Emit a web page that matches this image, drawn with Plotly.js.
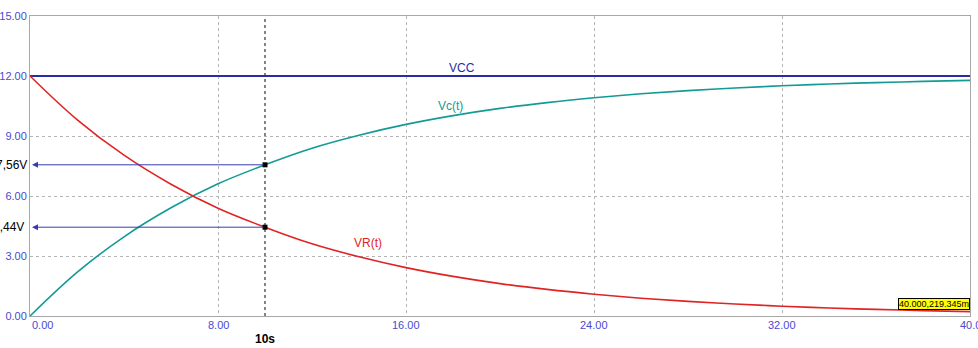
<!DOCTYPE html>
<html><head><meta charset="utf-8">
<script src="https://cdn.plot.ly/plotly-3.0.1.min.js"></script>
<style>html,body{margin:0;padding:0;background:#fff}#chart{width:978px;height:348px}</style>
</head><body><div id="chart"></div>
<script>
// time (s)
const timeS = [0,2,4,6,8,10,12,14,16,18,20,22,24,26,28,30,32,34,36,38,40];
// capacitor voltage Vc(t)
const vcVolts = [0,2.18,3.96,5.41,6.61,7.56,8.39,9.04,9.58,10.02,10.38,10.67,10.91,11.11,11.27,11.40,11.51,11.60,11.67,11.73,11.78];
// resistor voltage VR(t)
const vrVolts = [12,9.82,8.04,6.59,5.39,4.44,3.61,2.96,2.42,1.98,1.62,1.33,1.09,0.89,0.73,0.60,0.49,0.40,0.33,0.27,0.22];
// supply
const vccTime = [0,40];
const vccVolts = [12,12];
// cursor
const cursorT = 10;
const cursorVals = [7.56, 4.44];
const cursorLabels = ["7,56V", "4,44V"];
const endLabel = "40.000,219.345m";
const endPoint = [40, 0.219345];
const xTicks = [0,8,16,24,32,40];
const xTickText = ["0.00","8.00","16.00","24.00","32.00","40.0"];
const yTicks = [0,3,6,9,12,15];

const tickColor = '#4a4ad0';
const font = 'Liberation Sans, Arial, sans-serif';

const traces = [
  {x: vccTime, y: vccVolts, mode:'lines', line:{color:'#2b2ba3', width:2}, hoverinfo:'skip'},
  {x: timeS, y: vcVolts, mode:'lines', line:{color:'#139a96', width:1.6, shape:'spline'}, hoverinfo:'skip'},
  {x: timeS, y: vrVolts, mode:'lines', line:{color:'#e02424', width:1.6, shape:'spline'}, hoverinfo:'skip'},
  {x: [cursorT, cursorT], y: [0, 15], mode:'lines', line:{color:'#333', width:1.2, dash:'dot'}, hoverinfo:'skip'},
  {x: [cursorT, cursorT], y: cursorVals, mode:'markers', marker:{color:'#000', size:5, symbol:'square'}, hoverinfo:'skip'}
];

const annotations = [];
cursorVals.forEach((v,i)=>{
  annotations.push({x:0, y:v, ax:cursorT, ay:v, xref:'x', yref:'y', axref:'x', ayref:'y',
    text:'', showarrow:true, arrowhead:2, arrowsize:1.2, arrowwidth:1, arrowcolor:'#3a3ab0', standoff:2});
  annotations.push({x:0, y:v, xref:'paper', yref:'y', text:cursorLabels[i], showarrow:false,
    xanchor:'right', xshift: i===0 ? -1 : -4, font:{family:font, size:12, color:'#000'}});
});
xTicks.forEach((t,i)=>{
  annotations.push({x:t, y:0, xref:'x', yref:'paper', yanchor:'top', yshift:-1,
    xanchor: i===0 ? 'left' : 'center', text:xTickText[i], showarrow:false,
    font:{family:font, size:11, color:tickColor}});
});
annotations.push({x:cursorT, y:0, xref:'x', yref:'paper', yanchor:'top', yshift:-14,
  text:'<b>10s</b>', showarrow:false, font:{family:font, size:12, color:'#000'}});
annotations.push({x:18.4, y:12, xref:'x', yref:'y', yanchor:'bottom', yshift:-1,
  text:'VCC', showarrow:false, font:{family:font, size:12, color:'#2b2ba3'}});
annotations.push({x:17.9, y:10.5, xref:'x', yref:'y', text:'Vc(t)', showarrow:false,
  font:{family:font, size:12, color:'#139a96'}});
annotations.push({x:14.4, y:3.65, xref:'x', yref:'y', text:'VR(t)', showarrow:false,
  font:{family:font, size:12, color:'#e02424'}});
annotations.push({x:endPoint[0], y:endPoint[1], xref:'x', yref:'y', xanchor:'right', yanchor:'bottom', yshift:2,
  text:endLabel, showarrow:false, bgcolor:'#ffff00', bordercolor:'#000', borderwidth:1, borderpad:0,
  font:{family:font, size:9, color:'#000'}});

const layout = {
  width:978, height:348,
  margin:{l:30, r:8, t:16, b:32},
  paper_bgcolor:'#fff', plot_bgcolor:'#fff',
  showlegend:false,
  xaxis:{range:[0,40], tickvals:xTicks, showticklabels:false, ticks:'',
    showgrid:true, gridcolor:'#b4b4b4', griddash:'dot', gridwidth:1,
    showline:true, linecolor:'#a8a8a8', linewidth:1, mirror:true, zeroline:false, fixedrange:true},
  yaxis:{range:[0,15], tickvals:yTicks, tickformat:'.2f', ticks:'',
    tickfont:{family:font, size:11, color:tickColor},
    showgrid:true, gridcolor:'#b4b4b4', griddash:'dot', gridwidth:1,
    showline:true, linecolor:'#a8a8a8', linewidth:1, mirror:true, zeroline:false, fixedrange:true},
  annotations: annotations
};
Plotly.newPlot('chart', traces, layout, {displayModeBar:false, staticPlot:true});
</script></body></html>
